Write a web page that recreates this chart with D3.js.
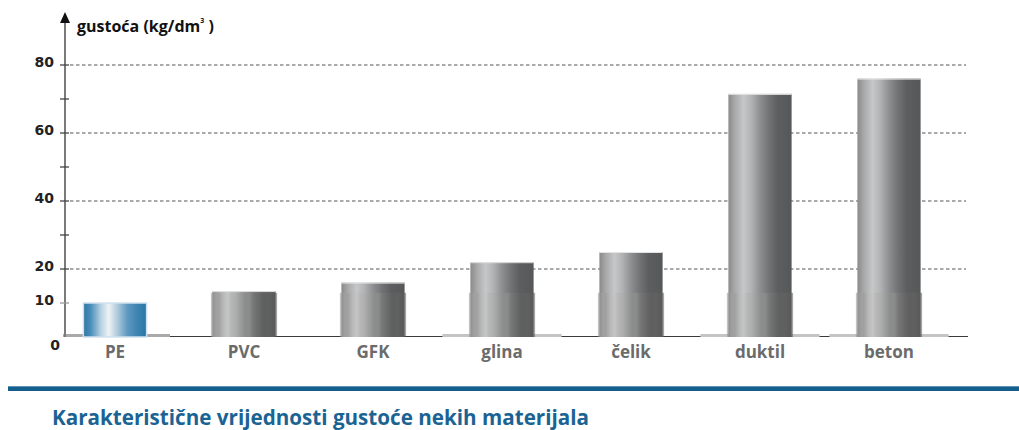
<!DOCTYPE html>
<html>
<head>
<meta charset="utf-8">
<script src="https://cdn.jsdelivr.net/npm/d3@7"></script>
<style>
  body { margin: 0; background: #fff; }
  svg { display: block; }
</style>
</head>
<body>
<div id="chart"></div>
<script>
// data
const materials = ['PE', 'PVC', 'GFK', 'glina', 'čelik', 'duktil', 'beton'];
const density = [10, 13.5, 16, 22, 25, 71.5, 76];
const gridValues = [20, 40, 60, 80];
const tickValues = [10, 20, 30, 40, 50, 60, 70, 80];
const labelValues = [0, 10, 20, 40, 60, 80];
const sleeveTop = 13;

const width = 1019;
const height = 430;

const svg = d3.select('#chart')
  .append('svg')
  .attr('width', width)
  .attr('height', height);

const defs = svg.append('defs');

// cylinder shading for the grey pipes
const grey = defs.append('linearGradient').attr('id', 'pipe');
[[0, '#8a8a8a'], [0.1, '#a8a8a8'], [0.24, '#c6c7c8'], [0.36, '#b2b3b4'],
 [0.5, '#8e8f90'], [0.64, '#727374'], [0.78, '#5d5e5f'], [1, '#565758']]
  .forEach(([o, c]) => grey.append('stop').attr('offset', o).attr('stop-color', c));

// socket with fine vertical stripes
const sock = defs.append('linearGradient').attr('id', 'sock');
[[0, '#8f8f8f'], [0.08, '#a3a3a3'], [0.12, '#9a9a9a'], [0.2, '#bcbcbc'], [0.26, '#c3c3c3'],
 [0.3, '#b3b3b3'], [0.38, '#ababab'], [0.44, '#9e9e9e'], [0.52, '#8e8e8e'], [0.58, '#969696'],
 [0.64, '#7c7c7c'], [0.72, '#6e6e6e'], [0.8, '#616161'], [0.88, '#656565'], [1, '#595959']]
  .forEach(([o, c]) => sock.append('stop').attr('offset', o).attr('stop-color', c));

// blue PE pipe
const blue = defs.append('linearGradient').attr('id', 'pe');
[[0, '#2c77a6'], [0.12, '#4d8fba'], [0.28, '#b9d2e2'], [0.4, '#eef3f6'], [0.55, '#a9c6da'],
 [0.7, '#5d98c0'], [0.85, '#3e84b2'], [1, '#2a75a4']]
  .forEach(([o, c]) => blue.append('stop').attr('offset', o).attr('stop-color', c));

const x = d3.scaleBand()
  .domain(materials)
  .range([50.5, 953.5])
  .paddingInner(0.51)
  .paddingOuter(0.255);

const y = d3.scaleLinear()
  .domain([0, 80])
  .range([337, 65]);

// dashed grid
svg.append('g')
  .selectAll('line')
  .data(gridValues)
  .join('line')
  .attr('x1', 70)
  .attr('x2', 966)
  .attr('y1', d => y(d))
  .attr('y2', d => y(d))
  .attr('stroke', '#555')
  .attr('stroke-width', 1)
  .attr('stroke-dasharray', '3.5,2.5');

// baseline
svg.append('line')
  .attr('x1', 170).attr('x2', 968)
  .attr('y1', y(0) - 0.5).attr('y2', y(0) - 0.5)
  .attr('stroke', '#3a3a3a').attr('stroke-width', 1);
svg.append('rect')
  .attr('x', 63).attr('y', y(0) - 3)
  .attr('width', 107).attr('height', 3)
  .attr('fill', '#a9a9a9');

// plinths under some pipes
svg.append('g')
  .selectAll('rect')
  .data(['glina', 'duktil', 'beton'])
  .join('rect')
  .attr('x', d => x(d) - 28)
  .attr('y', y(0) - 3)
  .attr('width', x.bandwidth() + 56)
  .attr('height', 3)
  .attr('fill', '#c4c4c4');

// pipes
const bars = svg.append('g')
  .selectAll('g')
  .data(materials.map((m, i) => ({ name: m, value: density[i] })))
  .join('g');

bars.append('rect')
  .attr('x', d => x(d.name))
  .attr('y', d => y(d.value))
  .attr('width', x.bandwidth())
  .attr('height', d => y(0) - y(d.value))
  .attr('fill', d => d.name === 'PE' ? 'url(#pe)' : 'url(#pipe)')
  .attr('stroke', d => d.name === 'PE' ? '#cfe1ee' : 'none')
  .attr('stroke-width', 1.5);

bars.filter(d => d.value > sleeveTop)
  .append('rect')
  .attr('x', d => x(d.name) - 1.5)
  .attr('y', y(sleeveTop))
  .attr('width', x.bandwidth() + 3)
  .attr('height', y(0) - y(sleeveTop))
  .attr('fill', 'url(#sock)')
  .attr('opacity', 0.55);

// top edge highlight
bars.filter(d => d.name !== 'PE')
  .append('line')
  .attr('x1', d => x(d.name))
  .attr('x2', d => x(d.name) + x.bandwidth())
  .attr('y1', d => y(d.value) + 0.5)
  .attr('y2', d => y(d.value) + 0.5)
  .attr('stroke', '#e2e2e2')
  .attr('stroke-width', 1);

// y axis
svg.append('line')
  .attr('x1', 65).attr('x2', 65)
  .attr('y1', y(0)).attr('y2', 20)
  .attr('stroke', '#7a7a7a').attr('stroke-width', 2);
svg.append('path')
  .attr('d', 'M65,12 L60,23 L70,23 Z')
  .attr('fill', '#111');

svg.append('g')
  .selectAll('line')
  .data(tickValues)
  .join('line')
  .attr('x1', 60).attr('x2', 69)
  .attr('y1', d => y(d)).attr('y2', d => y(d))
  .attr('stroke', d => d === 10 ? '#9a9a9a' : '#444')
  .attr('stroke-width', 1.3);

svg.append('g')
  .selectAll('text')
  .data(labelValues)
  .join('text')
  .attr('x', d => d === 0 ? 60 : 54)
  .attr('y', d => d === 0 ? 350 : y(d) - 3)
  .attr('dy', d => d === 0 ? 0 : '0.35em')
  .attr('text-anchor', 'end')
  .attr('font-family', 'DejaVu Sans, sans-serif')
  .attr('font-weight', 'bold')
  .attr('font-size', 14)
  .attr('fill', '#222')
  .text(d => d);

// axis title
const yt = svg.append('text')
  .attr('x', 77)
  .attr('y', 32)
  .attr('font-family', 'Open Sans, sans-serif')
  .attr('font-weight', 'bold')
  .attr('font-size', 16)
  .attr('fill', '#111');
yt.append('tspan').text('gustoća (kg/dm');
yt.append('tspan').attr('font-size', 7).attr('dy', -9).text('3');
yt.append('tspan').attr('dy', 9).text(' )');

// category labels
svg.append('g')
  .selectAll('text')
  .data(materials)
  .join('text')
  .attr('x', d => x(d) + x.bandwidth() / 2)
  .attr('y', 358)
  .attr('text-anchor', 'middle')
  .attr('font-family', 'Open Sans, sans-serif')
  .attr('font-weight', 'bold')
  .attr('font-size', 17)
  .attr('fill', '#6b6b6b')
  .text(d => d);

// blue rule and caption
svg.append('rect')
  .attr('x', 8).attr('y', 386)
  .attr('width', width - 8).attr('height', 5)
  .attr('fill', '#155f8e');
svg.append('rect')
  .attr('x', 8).attr('y', 386)
  .attr('width', width - 8).attr('height', 1)
  .attr('fill', '#5f93b6');

svg.append('text')
  .attr('x', 52)
  .attr('y', 425)
  .attr('font-family', 'Open Sans, sans-serif')
  .attr('font-weight', 'bold')
  .attr('font-size', 21)
  .attr('fill', '#1b6393')
  .attr('textLength', 537)
  .attr('lengthAdjust', 'spacingAndGlyphs')
  .text('Karakteristične vrijednosti gustoće nekih materijala');
</script>
</body>
</html>
